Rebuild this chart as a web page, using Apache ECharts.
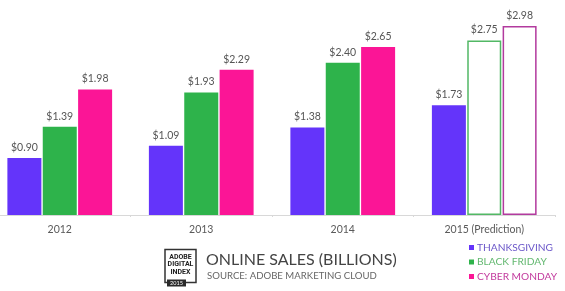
<!DOCTYPE html>
<html><head><meta charset="utf-8">
<script src="https://cdn.jsdelivr.net/npm/echarts@6/dist/echarts.min.js"></script>
<style>html,body{margin:0;padding:0;background:#fff;overflow:hidden}#c{position:absolute;left:-11px;top:0;width:576px;height:291px}</style>
</head><body><div id="c"></div>
<script>
var categories = ['2012', '2013', '2014', '2015 (Prediction)'];
var thanksgiving = [0.90, 1.09, 1.38, 1.73];
var blackFriday = [1.39, 1.93, 2.40, 2.75];
var cyberMonday = [1.98, 2.29, 2.65, 2.98];
var seriesNames = ['THANKSGIVING', 'BLACK FRIDAY', 'CYBER MONDAY'];
var predictionIndex = 3;

var FONT = 'Lato, "Open Sans", sans-serif';
var OX = 11; // offset of chart div
var fills = ['#6434FA', '#2EB34B', '#FB1596'];
var outlines = ['#6434FA', '#52B865', '#B23A9E'];
var legendText = ['#6B57C9', '#63B870', '#C23A9D'];

function build(values, idx) {
  return values.map(function (v, i) {
    if (i === predictionIndex && idx > 0) {
      return { value: v, itemStyle: { color: '#fff', borderColor: outlines[idx], borderWidth: 1.5 } };
    }
    return { value: v };
  });
}
var allVals = [thanksgiving, blackFriday, cyberMonday];
var series = allVals.map(function (vals, idx) {
  return {
    name: seriesNames[idx], type: 'bar', barWidth: 34, barGap: '4%',
    itemStyle: { color: fills[idx] },
    label: { show: true, position: 'top', distance: 5, color: '#555', fontSize: 10.5, fontFamily: FONT,
      formatter: function (p) { return '$' + p.value.toFixed(2); } },
    data: build(vals, idx)
  };
});

var chart = echarts.init(document.getElementById('c'));
chart.setOption({
  animation: false,
  grid: { left: 0, right: 10, top: 0, bottom: 76, containLabel: false },
  xAxis: { type: 'category', data: categories,
    axisLine: { lineStyle: { color: '#d8d8d8', width: 1 } },
    axisTick: { show: true, length: 2, lineStyle: { color: '#d8d8d8' } },
    axisLabel: { color: '#5a5a5a', fontSize: 10.5, fontFamily: FONT, margin: 9 } },
  yAxis: { type: 'value', min: 0, max: 3.39, show: false, splitLine: { show: false } },
  legend: {
    orient: 'vertical', left: 469 + OX, top: 242, height: 49, padding: 0, itemWidth: 5, itemHeight: 5, itemGap: 3.5,
    icon: 'rect', selectedMode: false,
    data: seriesNames.map(function (n, i) { return { name: n, textStyle: { color: legendText[i] } }; }),
    textStyle: { fontSize: 10.2, lineHeight: 11, fontFamily: FONT, padding: [0, 0, 0, -2] }
  },
  graphic: [
    { type: 'polyline', shape: { points: [[186 + OX, 282.5], [196 + OX, 282.5], [196 + OX, 249.5], [165 + OX, 249.5], [165 + OX, 282.5], [167 + OX, 282.5]] },
      style: { stroke: '#333', lineWidth: 1.5, fill: null } },
    { type: 'rect', shape: { x: 167 + OX, y: 279.5, width: 19, height: 7 }, style: { fill: '#2a2a2a' } },
    { type: 'text', x: 176.5 + OX, y: 283, style: { text: '2015', fill: '#fff', fontSize: 5.5, fontFamily: FONT, align: 'center', verticalAlign: 'middle' } },
    { type: 'text', x: 180.5 + OX, y: 257, style: { text: 'ADOBE', fill: '#222', fontSize: 7, fontWeight: 'bold', fontFamily: 'Roboto, sans-serif', align: 'center', verticalAlign: 'middle' } },
    { type: 'text', x: 180.5 + OX, y: 264.5, style: { text: 'DIGITAL', fill: '#222', fontSize: 7, fontWeight: 'bold', fontFamily: 'Roboto, sans-serif', align: 'center', verticalAlign: 'middle' } },
    { type: 'text', x: 180.5 + OX, y: 272, style: { text: 'INDEX', fill: '#222', fontSize: 7, fontWeight: 'bold', fontFamily: 'Roboto, sans-serif', align: 'center', verticalAlign: 'middle' } },
    { type: 'text', x: 206 + OX, y: 260, style: { text: 'ONLINE SALES (BILLIONS)', fill: '#444', fontSize: 16, fontFamily: FONT, verticalAlign: 'middle' } },
    { type: 'text', x: 207 + OX, y: 275.5, style: { text: 'SOURCE: ADOBE MARKETING CLOUD', fill: '#666', fontSize: 9.6, fontFamily: FONT, verticalAlign: 'middle' } }
  ],
  series: series
});
</script></body></html>
